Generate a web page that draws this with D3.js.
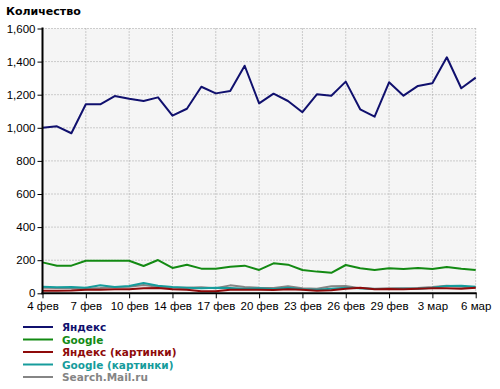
<!DOCTYPE html>
<html><head><meta charset="utf-8">
<script src="https://cdn.jsdelivr.net/npm/d3@7"></script>
<style>body{margin:0;background:#fff}svg{display:block}</style>
</head><body>
<script>
const categories = ["4 фев","5 фев","6 фев","7 фев","8 фев","9 фев","10 фев","11 фев","12 фев","14 фев","15 фев","16 фев","17 фев","18 фев","19 фев","20 фев","21 фев","22 фев","23 фев","24 фев","25 фев","26 фев","27 фев","28 фев","29 фев","1 мар","2 мар","3 мар","4 мар","5 мар","6 мар"];
const tickLabels = ["4 фев","7 фев","10 фев","14 фев","17 фев","20 фев","23 фев","26 фев","29 фев","3 мар","6 мар"];
const yTicks = [0,200,400,600,800,1000,1200,1400,1600];
const yandex = [1000,1009,967,1142,1142,1192,1176,1162,1184,1073,1115,1248,1208,1222,1375,1148,1206,1162,1094,1202,1194,1279,1112,1067,1275,1194,1253,1269,1426,1239,1303];
const google = [187,167,167,197,197,197,197,165,201,153,173,149,149,161,167,141,181,173,141,131,124,171,151,141,151,147,153,147,159,149,141];
const yandexImg = [15,15,17,22,22,24,24,30,32,24,22,12,12,22,22,22,20,24,22,16,18,28,34,24,26,25,28,30,30,28,34];
const googleImg = [40,36,38,34,48,38,44,62,46,38,34,30,34,32,28,30,26,34,24,22,28,34,30,26,26,28,28,34,44,46,40];
const mail = [34,32,30,28,32,38,40,50,40,34,34,36,30,48,38,34,32,42,30,28,42,44,30,28,30,30,32,38,46,40,34];
const seriesNames = ["Яндекс","Google","Яндекс (картинки)","Google (картинки)","Search.Mail.ru"];
const seriesColors = ["#10106e","#138a13","#8e0a0a","#169c9c","#858585"];
const seriesData = [yandex, google, yandexImg, googleImg, mail];

const W=500,H=389;
const svg=d3.select("body").append("svg").attr("width",W).attr("height",H);
const L=42.5,R=475.7,T=28.5,B=293.3;
const x=d3.scalePoint().domain(categories).range([L,R]);
const y=d3.scaleLinear().domain([0,1600]).range([B,T]);

svg.append("rect").attr("x",L).attr("y",T).attr("width",R-L).attr("height",B-T).attr("fill","#f5f5f5");

const tickIdx = tickLabels.map(t=>categories.indexOf(t));
// grid
svg.append("g").selectAll("line").data(tickIdx.slice(1)).join("line")
  .attr("x1",i=>x(categories[i])).attr("x2",i=>x(categories[i]))
  .attr("y1",T).attr("y2",B).attr("stroke","#a0a0a0").attr("stroke-dasharray","1,2");
svg.append("g").selectAll("line").data(yTicks.slice(1)).join("line")
  .attr("x1",L).attr("x2",R).attr("y1",d=>y(d)).attr("y2",d=>y(d))
  .attr("stroke","#a0a0a0").attr("stroke-dasharray","1,2");

// lines
const line=d3.line().x((d,i)=>x(categories[i])).y(d=>y(d));
const order=[0,1,4,3,2];
order.forEach(k=>{
  svg.append("path").datum(seriesData[k]).attr("d",line).attr("fill","none")
    .attr("stroke",seriesColors[k]).attr("stroke-width",2).attr("stroke-linejoin","round");
});

// y axis
const yAxis=svg.append("g").attr("transform",`translate(${L},0)`)
  .call(d3.axisLeft(y).tickValues(yTicks).tickSize(5).tickPadding(2).tickFormat(d3.format(",")));
yAxis.select(".domain").remove();
yAxis.selectAll("text").attr("font-family","Liberation Sans, Arial, sans-serif").attr("font-size","11.5px").attr("fill","#000");
svg.append("line").attr("x1",L).attr("x2",L).attr("y1",T-1).attr("y2",B+1).attr("stroke","#000").attr("stroke-width",2);

// x axis
const xAxis=svg.append("g").attr("transform",`translate(0,${B})`)
  .call(d3.axisBottom(x).tickValues(tickLabels).tickSize(5).tickPadding(4));
xAxis.select(".domain").remove();
xAxis.selectAll("text").attr("font-family","Liberation Sans, Arial, sans-serif").attr("font-size","11.5px").attr("fill","#000");
svg.append("line").attr("x1",L-1).attr("x2",R+1).attr("y1",B).attr("y2",B).attr("stroke","#000").attr("stroke-width",2);

// title
svg.append("text").attr("x",6).attr("y",15).text("Количество")
  .attr("font-family","DejaVu Sans, Verdana, sans-serif").attr("font-weight","bold").attr("font-size","11px").attr("fill","#000");

// legend
const ly=[327,339.5,352,364.5,377];
const lg=svg.append("g");
seriesNames.forEach((n,k)=>{
  lg.append("line").attr("x1",23).attr("x2",53).attr("y1",ly[k]).attr("y2",ly[k]).attr("stroke",seriesColors[k]).attr("stroke-width",2);
  lg.append("text").attr("x",62).attr("y",ly[k]+4).text(n).attr("fill",seriesColors[k])
    .attr("font-family","DejaVu Sans, Verdana, sans-serif").attr("font-weight","bold").attr("font-size","10.5px");
});
</script>
</body></html>
